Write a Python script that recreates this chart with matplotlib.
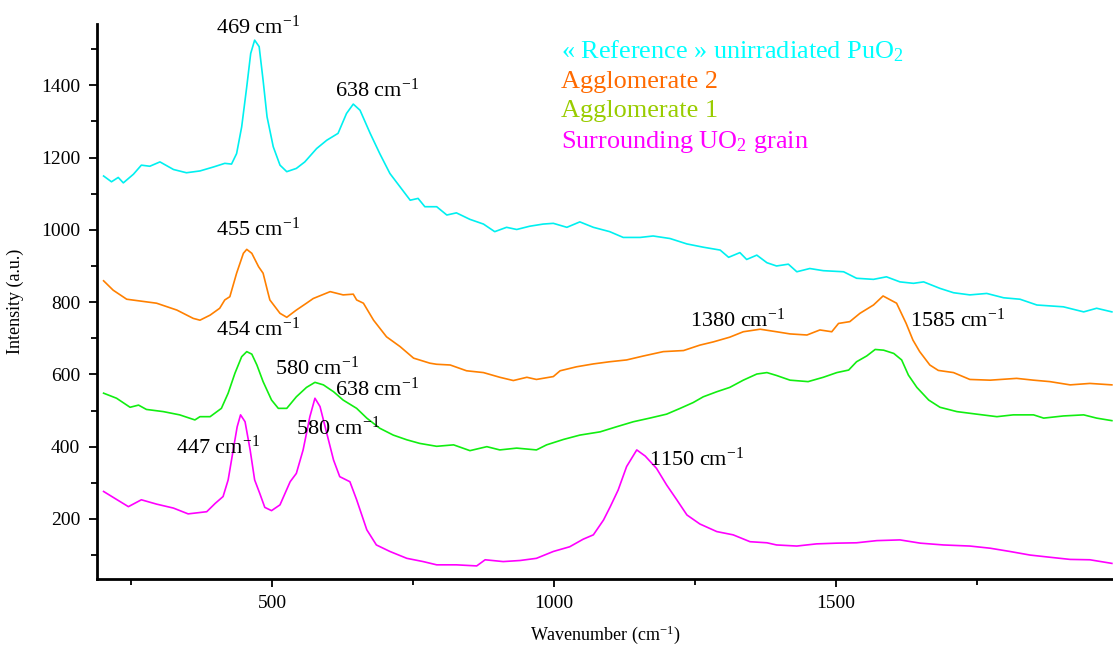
import matplotlib
matplotlib.use("Agg")
import matplotlib.pyplot as plt
from matplotlib.ticker import MultipleLocator

plt.rcParams["font.family"] = ["Liberation Serif", "DejaVu Serif"]
plt.rcParams["mathtext.fontset"] = "custom"
plt.rcParams["mathtext.rm"] = "Liberation Serif"
plt.rcParams["mathtext.it"] = "Liberation Serif:italic"

# spectra (wavenumber cm-1, intensity a.u.)
ref_x = [201, 215, 227, 236, 254, 268, 283, 301, 325, 348, 372, 396, 416, 428, 437, 446, 455, 462,
         469, 477, 484, 491, 502, 514, 526, 543, 558, 579, 597, 617, 632, 644, 656, 674, 691, 709,
         727, 745, 759, 771, 792, 810, 827, 851, 875, 895, 916, 934, 957, 981, 999, 1023, 1046,
         1070, 1099, 1123, 1153, 1176, 1206, 1236, 1265, 1295, 1310, 1330, 1342, 1360, 1378, 1395,
         1416, 1431, 1454, 1478, 1514, 1537, 1567, 1590, 1614, 1638, 1656, 1685, 1709, 1738, 1768,
         1798, 1827, 1857, 1904, 1940, 1963, 1990]
ref_y = [1149, 1133, 1145, 1130, 1154, 1179, 1176, 1188, 1167, 1158, 1163, 1174, 1184, 1182, 1211,
         1285, 1396, 1488, 1525, 1507, 1414, 1313, 1230, 1179, 1161, 1170, 1188, 1225, 1248, 1267,
         1322, 1348, 1331, 1267, 1211, 1156, 1119, 1082, 1087, 1064, 1064, 1041, 1047, 1029, 1016,
         995, 1007, 1001, 1010, 1016, 1018, 1007, 1022, 1007, 995, 979, 979, 983, 976, 961, 952,
         944, 924, 937, 918, 930, 909, 900, 905, 884, 893, 887, 884, 866, 863, 870, 856, 852, 856,
         838, 826, 820, 824, 812, 808, 792, 787, 773, 783, 773]

agg2_x = [201, 218, 242, 295, 331, 360, 372, 390, 407, 416, 425, 437, 449, 455, 464, 476, 484, 493,
          496, 514, 526, 543, 561, 573, 603, 626, 644, 650, 662, 680, 703, 727, 751, 780, 792, 816,
          845, 875, 904, 928, 952, 969, 999, 1011, 1040, 1070, 1099, 1129, 1159, 1194, 1230, 1259,
          1283, 1312, 1336, 1366, 1395, 1419, 1449, 1472, 1493, 1505, 1525, 1543, 1567, 1584, 1608,
          1625, 1637, 1649, 1667, 1682, 1709, 1738, 1774, 1821, 1851, 1880, 1916, 1951, 1990]
agg2_y = [859, 833, 808, 797, 778, 755, 750, 764, 783, 806, 815, 880, 935, 946, 935, 898, 880, 824,
          806, 769, 758, 778, 797, 810, 829, 820, 822, 806, 797, 750, 704, 677, 645, 631, 628, 626,
          610, 605, 592, 583, 592, 586, 594, 610, 621, 629, 635, 640, 651, 663, 666, 681, 690, 703,
          718, 725, 718, 712, 709, 723, 718, 741, 746, 769, 792, 817, 797, 741, 695, 663, 626, 611,
          605, 586, 584, 589, 584, 580, 571, 575, 571]

agg1_x = [201, 224, 248, 263, 277, 307, 336, 363, 372, 390, 410, 422, 434, 446, 455, 464, 473, 484,
          499, 511, 526, 543, 561, 576, 591, 609, 626, 650, 668, 691, 715, 739, 762, 792, 822, 851,
          881, 904, 934, 969, 987, 1017, 1046, 1082, 1111, 1141, 1170, 1200, 1224, 1247, 1265, 1289,
          1312, 1336, 1360, 1378, 1395, 1419, 1451, 1478, 1502, 1523, 1537, 1555, 1570, 1585, 1603,
          1617, 1629, 1644, 1665, 1685, 1715, 1750, 1786, 1815, 1851, 1869, 1904, 1940, 1963, 1990]
agg1_y = [548, 534, 509, 515, 503, 497, 488, 474, 483, 483, 506, 548, 603, 649, 663, 656, 626, 580,
          529, 506, 506, 538, 564, 578, 571, 552, 529, 506, 479, 451, 432, 419, 409, 401, 405, 389,
          400, 391, 396, 391, 405, 420, 432, 441, 455, 469, 479, 490, 506, 522, 538, 552, 564, 584,
          601, 605, 597, 584, 580, 592, 605, 612, 635, 651, 669, 667, 658, 640, 598, 564, 529, 509,
          497, 490, 483, 488, 488, 479, 485, 488, 479, 472]

uo2_x = [201, 224, 245, 268, 295, 325, 351, 384, 399, 413, 422, 431, 438, 444, 452, 461, 469, 478,
         487, 499, 514, 532, 543, 555, 567, 576, 585, 597, 609, 620, 638, 650, 668, 685, 709, 739,
         768, 792, 827, 863, 878, 910, 940, 969, 999, 1028, 1052, 1070, 1088, 1100, 1114, 1129, 1147,
         1162, 1182, 1200, 1218, 1236, 1259, 1289, 1318, 1348, 1378, 1395, 1431, 1466, 1502, 1537,
         1573, 1614, 1650, 1691, 1738, 1774, 1809, 1845, 1880, 1916, 1951, 1990]
uo2_y = [276, 254, 234, 253, 241, 230, 214, 220, 243, 262, 308, 391, 455, 488, 469, 391, 308, 271,
         232, 223, 239, 303, 326, 391, 483, 534, 511, 437, 363, 317, 303, 253, 170, 128, 110, 91,
         82, 73, 73, 70, 87, 82, 85, 91, 110, 123, 144, 156, 197, 234, 280, 345, 391, 374, 340, 294,
         253, 211, 186, 165, 156, 137, 134, 128, 125, 131, 133, 134, 140, 142, 133, 128, 125, 119,
         110, 100, 94, 88, 87, 77]

line_colors = ["#00F0F0", "#FF8000", "#11EE11", "#FF00FF"]
legend_names = [r"« Reference » unirradiated PuO$_\mathregular{2}$", "Agglomerate 2", "Agglomerate 1",
                r"Surrounding UO$_\mathregular{2}$ grain"]
legend_colors = ["#00FFFF", "#FF6A00", "#99CC00", "#FF00FF"]

peak_labels = ["469", "638", "455", "454", "580", "638", "447", "580", "1150", "1380", "1585"]
peak_pos = [(400, 1561), (611, 1387), (400, 1002), (400, 726), (506, 618), (611, 560),
            (329, 399), (542, 452), (1168, 366), (1241, 750), (1631, 750)]

fig = plt.figure(figsize=(11.13, 6.45), dpi=100)
ax = fig.add_axes([0.087, 0.103, 0.913, 0.86])

for xs, ys, c in zip([ref_x, agg2_x, agg1_x, uo2_x], [ref_y, agg2_y, agg1_y, uo2_y], line_colors):
    ax.plot(xs, ys, color=c, lw=1.2)

for lab, (px, py) in zip(peak_labels, peak_pos):
    ax.text(px, py, lab + r" cm$^{\mathregular{-1}}$", fontsize=16, ha="left", va="center")

legend_y = [0.950, 0.895, 0.843, 0.787]
for name, c, ly in zip(legend_names, legend_colors, legend_y):
    ax.text(0.457, ly, name, color=c, fontsize=18.9, transform=ax.transAxes, ha="left", va="center")

ax.set_xlim(189, 1992)
ax.set_ylim(35, 1570)
ax.xaxis.set_major_locator(MultipleLocator(500))
ax.xaxis.set_minor_locator(MultipleLocator(250))
ax.yaxis.set_major_locator(MultipleLocator(200))
ax.yaxis.set_minor_locator(MultipleLocator(100))
ax.tick_params(which="major", length=6, width=1.3, labelsize=14, pad=6)
ax.tick_params(which="minor", length=4, width=1.3)
ax.spines["top"].set_visible(False)
ax.spines["right"].set_visible(False)
ax.spines["left"].set_linewidth(2)
ax.spines["bottom"].set_linewidth(2)

ax.set_xlabel(r"Wavenumber (cm$^{\mathregular{-1}}$)", fontsize=13, labelpad=8)
ax.set_ylabel("Intensity (a.u.)", fontsize=13, labelpad=12)

fig.savefig("out.png", dpi=100)
